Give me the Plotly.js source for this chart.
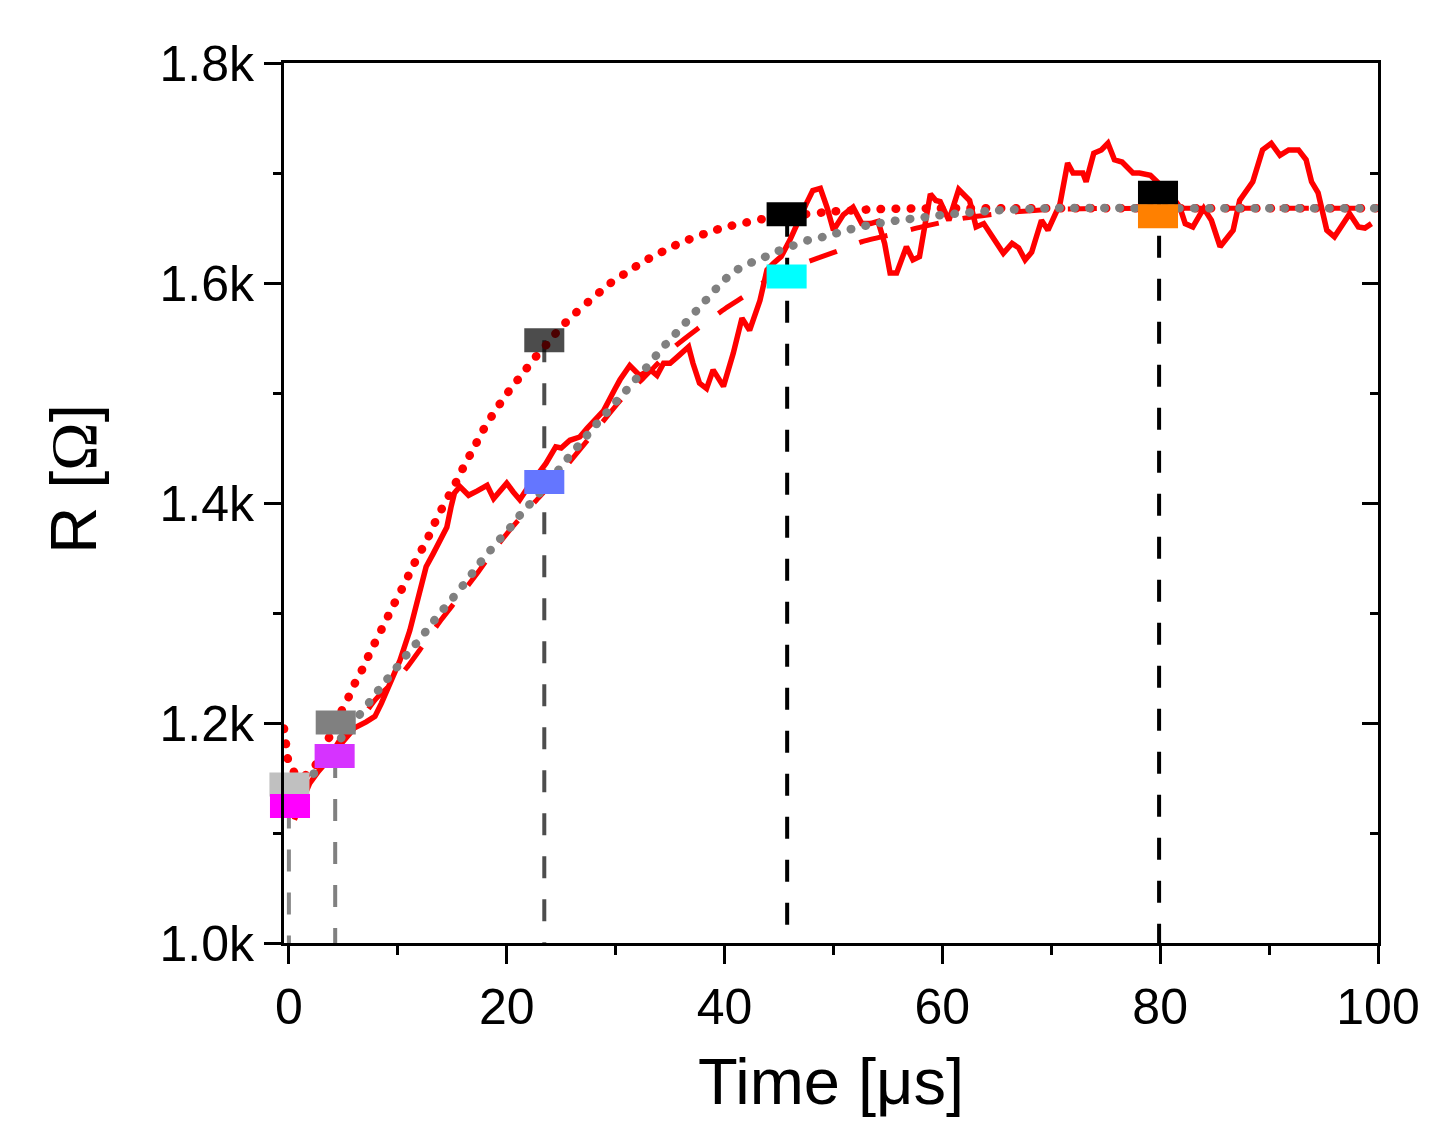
<!DOCTYPE html>
<html>
<head>
<meta charset="utf-8">
<script src="https://cdn.plot.ly/plotly-3.0.1.min.js"></script>
<style>
html,body{margin:0;padding:0;background:#fff;}
#chart{width:1447px;height:1125px;}
</style>
</head>
<body>
<div id="chart"></div>
<script>
// ---- measured signal (solid red) ----
const solidT = [0.5,1.2,1.9,2.7,3.5,4.7,5.9,7.1,7.9,8.5,9.3,10.2,11.1,12.0,12.6,13.25,14.5,14.9,15.2,15.7,16.5,17.3,18.2,18.8,19.4,20.0,20.6,21.2,21.8,22.4,23.0,23.6,24.5,25.0,25.8,26.7,27.4,28.1,28.9,29.9,30.4,31.3,32.2,33.2,33.8,34.4,35.0,35.8,36.7,37.1,37.7,38.35,38.95,39.9,40.8,41.6,42.3,43.25,43.9,44.5,45.2,46.0,46.9,47.5,48.1,48.8,49.4,50.0,50.9,51.8,52.6,53.4,54.1,54.7,55.2,55.8,56.7,57.3,57.9,58.9,59.4,59.8,60.6,61.5,62.5,63.1,63.8,64.7,65.6,66.4,67.0,67.6,68.2,69.1,69.7,70.8,71.5,72.0,72.9,73.2,73.9,74.6,75.2,75.8,76.5,77.5,78.1,79.1,80.0,81.0,81.8,82.3,83.0,84.0,84.7,85.5,86.7,87.3,88.5,89.4,90.2,91.0,91.8,92.7,93.4,93.9,94.5,95.3,96.0,97.0,97.4,98.2,98.8,99.4];
const solidR = [1112,1128,1145,1156,1165,1185,1195,1201,1206,1218,1236,1257,1284,1318,1342,1354,1378,1397,1409,1415,1407,1411,1416,1404,1412,1418,1410,1403,1412,1422,1428,1436,1451,1450,1457,1460,1468,1475,1484,1503,1512,1525,1516,1521,1516,1527,1527,1534,1542,1527,1509,1504,1521,1506,1536,1568,1557,1584,1612,1618,1624,1639,1660,1672,1684,1686,1669,1648,1662,1669,1654,1654,1656,1636,1609,1609,1633,1621,1624,1681,1675,1674,1657,1685,1675,1651,1654,1641,1627,1636,1632,1621,1628,1657,1648,1672,1709,1700,1700,1692,1718,1721,1727,1712,1710,1700,1700,1698,1690,1680,1669,1654,1651,1668,1657,1633,1648,1675,1692,1721,1727,1716,1721,1721,1712,1692,1682,1648,1642,1657,1663,1651,1650,1654];

// ---- red dotted fit ----
const dotRedT = [-0.45,-0.2,0.0,1.0,2.2,3.6,4.84,5.5,6.1,6.8,7.4,8.05,8.7,9.35,10.0,10.65,11.3,12.0,12.7,13.3,14.0,14.7,15.4,16.0,16.7,17.4,18.1,18.9,19.7,20.6,21.5,22.4,23.4,24.3,25.3,26.35,27.5,28.7,29.8,31.1,32.3,33.6,35.0,36.3,37.7,39.1,40.6,42.0,43.4,46,50,53.7,60,70,80,90,100];
const dotRedR = [1195,1176,1163,1150,1158,1185,1211,1224,1237,1250,1263,1276,1289,1302,1315,1327,1341,1354,1367,1380,1394,1407,1420,1432,1445,1458,1471,1483,1495,1507,1518,1530,1541,1552,1563,1573,1583,1593,1602,1610,1618,1625,1632,1638,1643,1648,1652,1655,1658,1661,1665,1667,1668,1668,1668,1668,1668];

// ---- gray dotted fit ----
const dotGrayT = [0.05,1.9,3.2,4.7,6.45,7.4,8.3,9.2,10.1,11.05,12.0,12.9,13.8,14.75,15.7,16.6,17.5,18.5,19.4,20.35,21.3,22.3,23.3,24.2,25.1,26.05,27.0,27.9,28.9,29.85,30.85,31.8,32.8,33.75,34.7,35.7,36.7,37.7,38.7,39.7,40.9,42.2,43.55,44.9,46.3,47.7,49.1,50.55,52.0,53.4,54.9,56.3,57.8,59.2,60.7,65,70,80,90,100];
const dotGrayR = [1138,1150,1165,1185,1207,1219,1231,1242,1253,1265,1276,1287.5,1299,1310,1321.5,1333,1345,1357,1367.5,1378,1390,1401,1412,1423,1434.5,1446,1457,1468,1479,1490,1501,1512,1523,1534.5,1545.5,1556,1567,1578,1589,1600,1610.6,1617.5,1623,1629,1634,1639,1642,1646,1650,1653,1655.5,1657.5,1659,1661,1662.5,1666,1668,1668,1668,1668];

// ---- red dashed fit ----
const dashRedT = [4.3,6,8,10,10.8,12.2,14.0,15.5,17.4,18.8,20.5,22.5,24.5,26.5,28.5,30.5,32.5,35.4,37.6,40.1,42.3,44.5,47,50.1,52.6,55.5,58.1,62,66,70,80,90,100];
const dashRedR = [1175,1195,1222,1241,1250,1269,1294,1313,1337.5,1357,1378,1400,1422,1446,1470,1494,1513,1542,1559,1577,1591,1607,1617,1628,1637.5,1644.5,1651,1659,1664,1667,1668,1668,1668];

// ---- highlighted points (rectangular markers) ----
const markT = [0.05,0.1,4.3,4.2,23.45,23.45,45.7,45.7,79.8,79.8];
const markR = [1144,1124.5,1200.5,1170,1548,1419,1662.5,1606,1682,1660.6];
const markColor = ['#c0c0c0','#ff00ff','#808080','#d633ff','rgba(0,0,0,0.7)','#6476ff','#000000','#00ffff','#000000','#ff8000'];

// ---- vertical drop lines ----
const vlineT = [0.0,4.25,23.45,45.75,79.9];
const vlineTop = [1124,1170,1548,1662,1682];
const vlineBottom = 1000;
const vlineColor = ['#888888','#808080','#4d4d4d','#000000','#000000'];

// ---- axis ticks ----
const xTickVals = [0,20,40,60,80,100];
const xTickText = ['0','20','40','60','80','100'];
const yTickVals = [1000,1200,1400,1600,1800];
const yTickText = ['1.0k','1.2k','1.4k','1.6k','1.8k'];

const traces = [];
vlineT.forEach((t,i)=>{
  traces.push({x:[t,t], y:[vlineTop[i], vlineBottom], mode:'lines', type:'scatter',
    line:{color:vlineColor[i], width:4, dash:'22px,21px'}, hoverinfo:'skip'});
});
traces.push({x:dashRedT, y:dashRedR, mode:'lines', type:'scatter',
  line:{color:'#ff0000', width:5, dash:'29px,24px', shape:'spline', smoothing:0.6}});
traces.push({x:solidT, y:solidR, mode:'lines', type:'scatter',
  line:{color:'#ff0000', width:5.5}});
traces.push({x:dotRedT, y:dotRedR, mode:'lines', type:'scatter',
  line:{color:'#ff0000', width:8.5, dash:'0.5px,14.5px', shape:'spline', smoothing:0.6}});
traces.push({x:dotGrayT, y:dotGrayR, mode:'lines', type:'scatter',
  line:{color:'#808080', width:8.5, dash:'0.5px,14.5px', shape:'spline', smoothing:0.6}});
traces.push({x:markT, y:markR, mode:'markers', type:'scatter', cliponaxis:false,
  marker:{symbol:'line-ew', size:28.6, color:markColor, line:{width:24, color:markColor}}});
traces.push({x:[50], y:[1400], yaxis:'y2', mode:'lines', type:'scatter', hoverinfo:'skip', line:{width:0}});
const roundIdx = [vlineT.length+2, vlineT.length+3];

const axisCommon = {showgrid:false, zeroline:false, showline:true, linewidth:3, linecolor:'black',
  tickwidth:3, tickcolor:'black', tickfont:{size:50, color:'black'}};

const layout = {
  width:1447, height:1125,
  margin:{l:284, r:69, t:63, b:182, pad:0},
  paper_bgcolor:'white', plot_bgcolor:'white',
  showlegend:false,
  font:{family:'"Liberation Sans", Arial, sans-serif', color:'black', size:50},
  xaxis:Object.assign({}, axisCommon, {
    range:[-0.45,100], tickmode:'array', tickvals:xTickVals, ticktext:xTickText,
    ticks:'outside', ticklen:18, mirror:true,
    minor:{tickmode:'linear', tick0:0, dtick:10, ticks:'outside', ticklen:9, tickwidth:3, tickcolor:'black', showgrid:false},
    title:{text:'Time [μs]', font:{size:65, color:'black'}, standoff:25}
  }),
  yaxis:Object.assign({}, axisCommon, {
    range:[1000,1800], tickmode:'array', tickvals:yTickVals, ticktext:yTickText,
    ticks:'outside', ticklen:17, mirror:false,
    minor:{tickmode:'linear', tick0:1000, dtick:100, ticks:'outside', ticklen:8, tickwidth:3, tickcolor:'black', showgrid:false},
    title:{text:'R [<span style="font-family:Liberation Serif">Ω</span>]', font:{size:65, color:'black'}, standoff:42}
  }),
  yaxis2:Object.assign({}, axisCommon, {
    overlaying:'y', side:'right', range:[1000,1800], tickmode:'linear', tick0:1000, dtick:200,
    ticks:'inside', ticklen:16, showticklabels:false,
    minor:{tickmode:'linear', tick0:1000, dtick:100, ticks:'inside', ticklen:8, tickwidth:3, tickcolor:'black', showgrid:false}
  })
};

Plotly.newPlot('chart', traces, layout, {staticPlot:true, displayModeBar:false}).then(()=>{
  const groups = document.querySelectorAll('.scatterlayer .trace');
  roundIdx.forEach(i=>{
    if(groups[i]) groups[i].querySelectorAll('path.js-line').forEach(p=>{p.style.strokeLinecap='round';});
  });
  // the reference places the y title slightly above the axis centre
  const yt = document.querySelector('.g-ytitle text');
  if(yt){ const tr = yt.getAttribute('transform') || ''; yt.setAttribute('transform', 'translate(0,-24) ' + tr); }
});
</script>
</body>
</html>
